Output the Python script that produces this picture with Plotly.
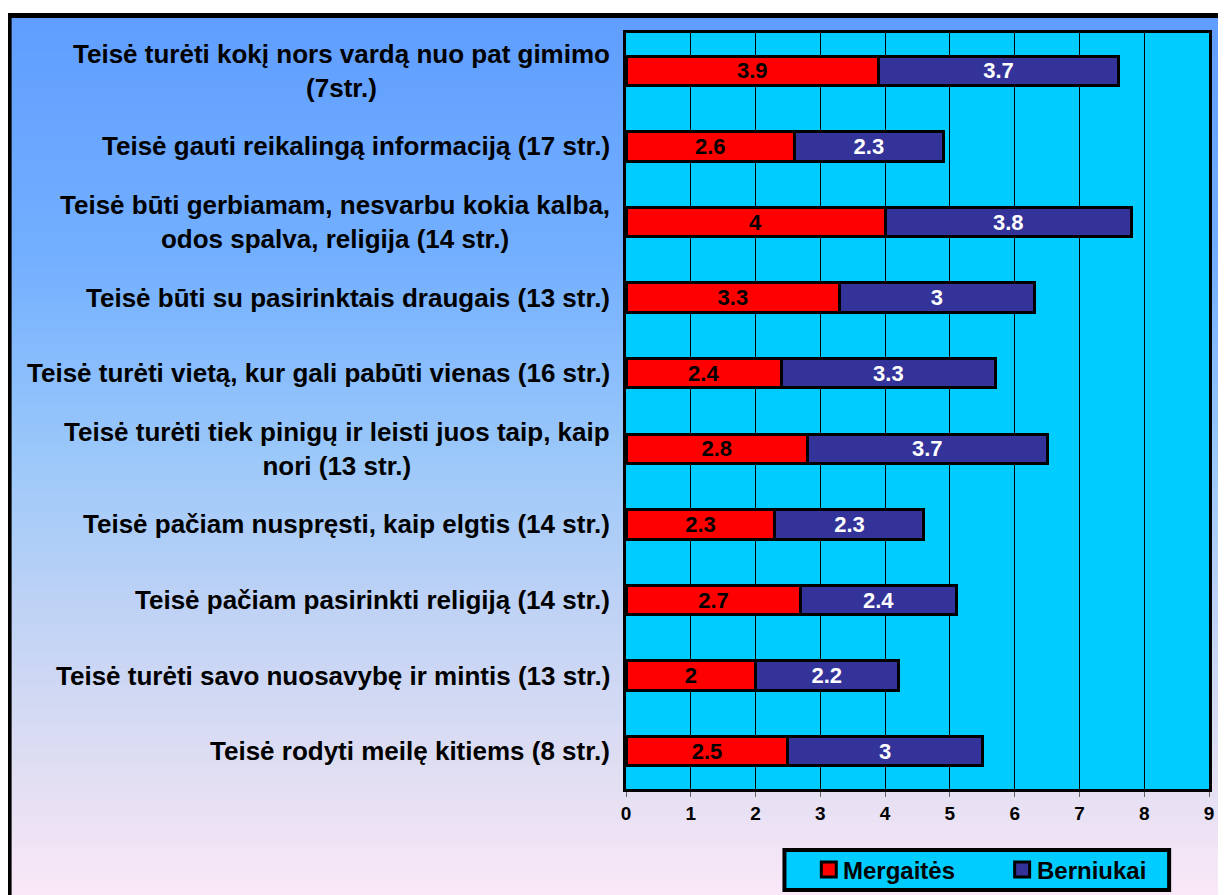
import base64
import struct
import zlib

import plotly.graph_objects as go

# data (top row first)
categories = [
    "Teisė turėti kokį nors vardą nuo pat gimimo<br>(7str.)",
    "Teisė gauti reikalingą informaciją (17 str.)",
    "Teisė būti gerbiamam, nesvarbu kokia kalba,<br>odos spalva, religija (14 str.)",
    "Teisė būti su pasirinktais draugais (13 str.)",
    "Teisė turėti vietą, kur gali pabūti vienas (16 str.)",
    "Teisė turėti tiek pinigų ir leisti juos taip, kaip<br>nori (13 str.)",
    "Teisė pačiam nuspręsti, kaip elgtis (14 str.)",
    "Teisė pačiam pasirinkti religiją (14 str.)",
    "Teisė turėti savo nuosavybę ir mintis (13 str.)",
    "Teisė rodyti meilę kitiems (8 str.)",
]
mergaites = [3.9, 2.6, 4, 3.3, 2.4, 2.8, 2.3, 2.7, 2, 2.5]
berniukai = [3.7, 2.3, 3.8, 3, 3.3, 3.7, 2.3, 2.4, 2.2, 3]
series_names = ["Mergaitės", "Berniukai"]
series_colors = ["#FF0000", "#333399"]
x_ticks = list(range(0, 10))

FONT = "Arial, Liberation Sans, sans-serif"
PLOT_BG = "#00CCFF"
# the page has an 8px body margin, so the figure is a bit smaller than the window
W, H = 1218, 887
ML, MR, MT, MB = 618, 15, 25, 106
PW, PH = W - ML - MR, H - MT - MB


def px(x):
    # figure pixel -> paper x
    return (x - ML) / PW


def py(y):
    # figure pixel (from top) -> paper y
    return (H - MB - y) / PH


def gradient_png(stops, height=200):
    """1px wide vertical gradient as a base64 png data uri"""
    raw = b""
    for i in range(height):
        t = i / (height - 1)
        for (t0, c0), (t1, c1) in zip(stops, stops[1:]):
            if t0 <= t <= t1:
                f = (t - t0) / (t1 - t0) if t1 > t0 else 0
                rgb = [round(a + (b - a) * f) for a, b in zip(c0, c1)]
                break
        raw += b"\x00" + bytes(rgb)

    def chunk(tag, data):
        return (struct.pack(">I", len(data)) + tag + data
                + struct.pack(">I", zlib.crc32(tag + data) & 0xFFFFFFFF))

    png = (b"\x89PNG\r\n\x1a\n"
           + chunk(b"IHDR", struct.pack(">IIBBBBB", 1, height, 8, 2, 0, 0, 0))
           + chunk(b"IDAT", zlib.compress(raw))
           + chunk(b"IEND", b""))
    return "data:image/png;base64," + base64.b64encode(png).decode()


bg = gradient_png([
    (0.00, (96, 158, 255)),
    (0.27, (115, 175, 255)),
    (0.50, (155, 200, 250)),
    (0.67, (190, 210, 245)),
    (0.87, (226, 223, 242)),
    (1.00, (250, 232, 248)),
])

fig = go.Figure()
for name, vals, col, txt in zip(series_names, [mergaites, berniukai],
                                series_colors, ["black", "white"]):
    fig.add_trace(go.Bar(
        name=name, y=categories, x=vals, orientation="h",
        marker=dict(color=col, line=dict(color="black", width=3)),
        texttemplate="%{x}", textposition="inside", insidetextanchor="middle",
        textangle=0,
        textfont=dict(family=FONT, size=22, color=txt, weight="bold"),
        hoverinfo="skip", showlegend=False,
    ))

# category labels drawn as annotations so the two-line ones stay centred
for cat in categories:
    fig.add_annotation(
        x=0, y=cat, xref="paper", yref="y", xanchor="right", yanchor="middle",
        xshift=-14, text=cat, showarrow=False, align="center",
        font=dict(family=FONT, size=26, color="black", weight="bold"),
    )

shapes = [
    # cyan plot area on top of the gradient image (grid stays above it)
    dict(type="rect", xref="paper", yref="paper", layer="below",
         x0=0, x1=1, y0=0, y1=1, line=dict(width=0), fillcolor=PLOT_BG),
    # outer frame
    dict(type="rect", xref="paper", yref="paper", layer="above",
         x0=px(-1), x1=px(W + 40), y0=py(H + 40), y1=py(7.5),
         line=dict(color="black", width=5), fillcolor="rgba(0,0,0,0)"),
    # hand-made legend box at the bottom
    dict(type="rect", xref="paper", yref="paper", layer="above",
         x0=px(777), x1=px(1163), y0=py(882), y1=py(842),
         line=dict(color="black", width=4), fillcolor=PLOT_BG),
]
leg_x = [814, 1008]
for name, col, lx in zip(series_names, series_colors, leg_x):
    shapes.append(dict(
        type="rect", xref="paper", yref="paper", layer="above",
        x0=px(lx), x1=px(lx + 15), y0=py(869), y1=py(854),
        line=dict(color="black", width=3), fillcolor=col,
    ))
    fig.add_annotation(
        x=px(lx + 20), y=py(862), xref="paper", yref="paper",
        xanchor="left", yanchor="middle", text=name, showarrow=False,
        font=dict(family=FONT, size=24, color="black", weight="bold"),
    )

fig.update_layout(
    width=W, height=H,
    margin=dict(l=ML, r=MR, t=MT, b=MB),
    barmode="stack", bargap=0.61,
    paper_bgcolor="white", plot_bgcolor=PLOT_BG,
    font=dict(family=FONT, color="black"),
    uniformtext=dict(minsize=22, mode="show"),
    showlegend=False,
    images=[dict(
        source=bg, xref="paper", yref="paper", x=px(0), y=py(7),
        sizex=px(W + 10) - px(0), sizey=py(7) - py(H),
        xanchor="left", yanchor="top", sizing="stretch", layer="below",
    )],
    shapes=shapes,
)

fig.update_xaxes(
    range=[0, 9], tickvals=x_ticks, showgrid=True, gridcolor="black",
    gridwidth=1, zeroline=False, showline=True, linecolor="black",
    linewidth=3, mirror=True, ticks="outside", ticklen=5, tickcolor="#666666",
    tickfont=dict(family=FONT, size=19, color="black", weight="bold"),
    fixedrange=True,
)
fig.update_yaxes(
    autorange="reversed", showticklabels=False, showgrid=False, ticks="",
    showline=True, linecolor="black", linewidth=3, mirror=True,
    fixedrange=True,
)

fig.write_html("out.html", config={"displayModeBar": False})
